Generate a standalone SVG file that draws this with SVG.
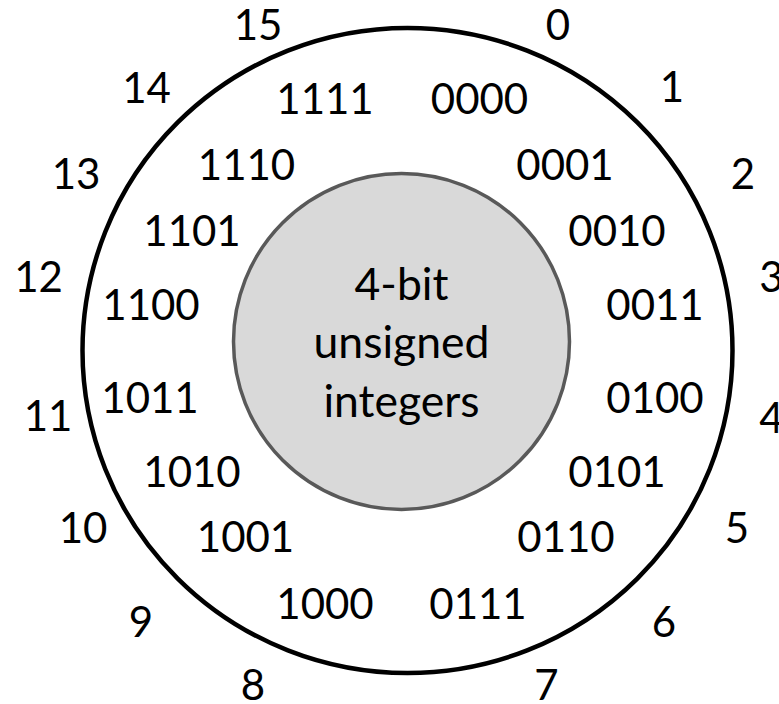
<svg xmlns="http://www.w3.org/2000/svg" width="779" height="704" viewBox="0 0 779 704">
<style>
text { font-family: Lato, "Open Sans", "Liberation Sans", sans-serif; fill: #000; text-anchor: middle; }
.n { font-size: 42px; }
.b { font-size: 42px; }
.c { font-size: 44.5px; }
</style>
<rect width="779" height="704" fill="#fff"/>
<g id="outer-ring">
<ellipse cx="407.5" cy="350.5" rx="325" ry="322.5" fill="none" stroke="#000" stroke-width="4.5"/>
</g>
<g id="center">
<circle cx="401.5" cy="341.5" r="168" fill="#d9d9d9" stroke="#595959" stroke-width="3.5"/>
<text class="c" x="401.5" y="300">4-bit</text>
<text class="c" x="401.5" y="358">unsigned</text>
<text class="c" x="401.5" y="417">integers</text>
</g>
<g id="decimal-labels">
<text class="n" x="558" y="40">0</text>
<text class="n" x="672" y="102">1</text>
<text class="n" x="743" y="188.5">2</text>
<text class="n" x="771.5" y="292">3</text>
<text class="n" x="771.5" y="433">4</text>
<text class="n" x="737" y="543">5</text>
<text class="n" x="664" y="637">6</text>
<text class="n" x="546.5" y="700">7</text>
<text class="n" x="253" y="700">8</text>
<text class="n" x="141" y="637">9</text>
<text class="n" x="83" y="543">10</text>
<text class="n" x="48" y="431">11</text>
<text class="n" x="38.5" y="292">12</text>
<text class="n" x="76" y="188.5">13</text>
<text class="n" x="146.5" y="103">14</text>
<text class="n" x="258" y="40">15</text>
</g>
<g id="binary-labels">
<text class="b" x="479.5" y="113.5">0000</text>
<text class="b" x="565" y="179.5">0001</text>
<text class="b" x="617" y="245.5">0010</text>
<text class="b" x="655" y="319.5">0011</text>
<text class="b" x="655" y="413">0100</text>
<text class="b" x="617" y="487">0101</text>
<text class="b" x="566" y="552">0110</text>
<text class="b" x="478" y="619">0111</text>
<text class="b" x="325" y="619">1000</text>
<text class="b" x="245.5" y="552">1001</text>
<text class="b" x="192" y="487">1010</text>
<text class="b" x="150" y="413">1011</text>
<text class="b" x="151" y="319.5">1100</text>
<text class="b" x="192" y="245.5">1101</text>
<text class="b" x="246.5" y="179.5">1110</text>
<text class="b" x="325" y="113.5">1111</text>
</g>
</svg>
